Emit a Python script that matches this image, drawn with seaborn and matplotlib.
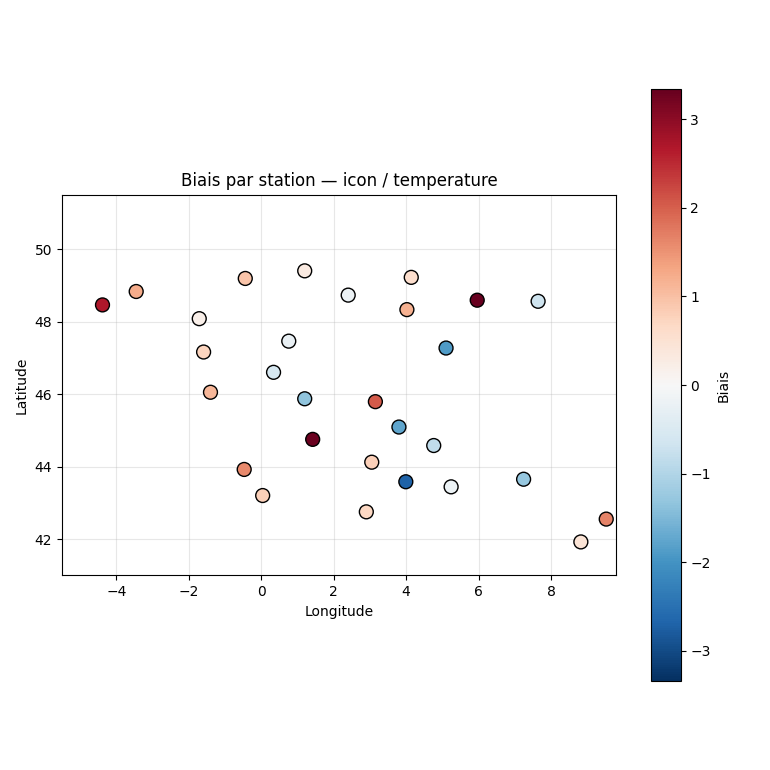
import numpy as np
import pandas as pd
import matplotlib
matplotlib.use("Agg")
import matplotlib.pyplot as plt
import seaborn as sns

# Station positions and bias values
lon = [-4.38, -3.45, -0.44, 1.20, 2.40, 4.14, 4.02, 5.96, 7.64,
       -1.71, -1.59, 0.76, 5.10, 0.34, -1.40, 1.20, 3.15, 3.80, 1.42,
       4.76, -0.47, 3.05, 3.99, 5.24, 7.24, 0.04, 2.90, 9.52, 8.82]
lat = [48.46, 48.83, 49.19, 49.40, 48.73, 49.22, 48.33, 48.59, 48.56,
       48.08, 47.16, 47.46, 47.27, 46.60, 46.05, 45.87, 45.79, 45.09, 44.75,
       44.58, 43.92, 44.12, 43.58, 43.44, 43.65, 43.20, 42.75, 42.55, 41.92]
bias = [2.70, 1.25, 0.95, 0.30, -0.20, 0.60, 1.20, 3.34, -0.70,
        0.20, 0.75, -0.25, -1.90, -0.55, 1.10, -1.35, 2.05, -1.75, 3.30,
        -0.85, 1.60, 0.80, -2.70, -0.20, -1.30, 0.80, 0.70, 1.65, 0.45]

df = pd.DataFrame({"lon": lon, "lat": lat, "bias": bias})

vmax = np.abs(df["bias"]).max()
norm = plt.Normalize(-vmax, vmax)
cmap = plt.get_cmap("RdBu_r")

fig, ax = plt.subplots(figsize=(7.7, 7.7), dpi=100)
sns.scatterplot(data=df, x="lon", y="lat", hue="bias", palette=cmap,
                hue_norm=norm, s=100, edgecolor="black", linewidth=1,
                legend=False, ax=ax, zorder=3)

ax.set_xlim(-5.5, 9.8)
ax.set_ylim(41, 51.5)
ax.set_aspect("equal")
ax.grid(True, alpha=0.3)
ax.set_xlabel("Longitude")
ax.set_ylabel("Latitude")
ax.set_title("Biais par station — icon / temperature")

sm = plt.cm.ScalarMappable(norm=norm, cmap=cmap)
sm.set_array([])
fig.colorbar(sm, ax=ax, label="Biais", shrink=0.8)

fig.tight_layout()
fig.savefig("out.png", dpi=100)
